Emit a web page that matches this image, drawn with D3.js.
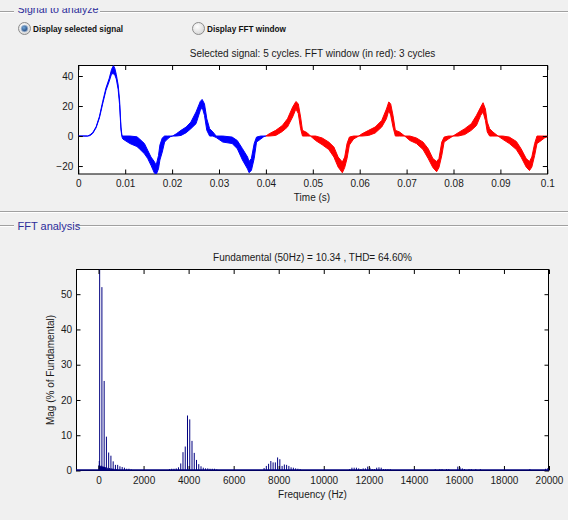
<!DOCTYPE html>
<html><head><meta charset="utf-8">
<script src="https://cdn.jsdelivr.net/npm/d3@7"></script>
<style>
html,body{margin:0;padding:0;background:#f0f0f0;}
svg{display:block;}
text{font-family:"Liberation Sans",Arial,Helvetica,sans-serif;}
</style></head><body>
<svg id="c" width="568" height="520"></svg>
<script>
// ---------- DATA ----------
// Selected signal: envelope (upper / lower) of the densely switching waveform, time in ms
const sigTimeMs = [0,2.0,2.5,3.1,3.8,4.5,5.2,5.9,6.6,7.1,7.5,7.8,8.1,8.5,8.8,9.1,9.3,9.5,11.0,12.5,13.0,14.1,14.8,15.5,16.2,16.6,17.1,17.4,17.9,18.4,19.0,19.6,20.1,
 20.9,21.9,23.0,24.0,25.1,26.0,26.4,26.9,27.4,28.0,28.7,29.4,30.8,32.8,33.9,35.0,36.1,36.4,36.9,37.5,38.0,38.9,39.6,40.0,
 40.7,42.1,43.5,44.6,45.7,46.4,46.9,47.4,47.8,48.8,49.5,50.6,52.0,53.4,54.5,55.4,56.3,56.8,57.3,57.8,58.7,59.8,
 60.5,61.9,63.3,64.7,65.7,66.2,66.6,67.1,67.6,68.5,69.6,70.7,72.1,73.5,74.6,75.6,76.4,76.9,77.5,78.0,78.9,79.9,
 81.0,82.4,83.8,84.9,85.8,86.3,86.8,87.2,87.7,88.4,89.5,90.5,91.9,93.4,94.4,95.5,96.2,96.7,97.3,97.8,98.7,99.4,100];
const sigUpper = [0,0,0.8,2.4,6.2,13,23,32,38.5,44.5,47,45,41,34,24,6,0.5,0,0,-0.5,-1.8,-5,-9.5,-14,-17,-19.5,-13,-6,-1.3,0,0,0,0,
 1.5,3.8,6,9.3,16,23,24.4,21.5,11.5,4.9,2.7,0,0,-0.7,-3,-8.4,-14,-17,-15,-5,-0.7,0,0,0,
 1.5,3.8,7,11.5,19.3,23,21.5,12.7,3.8,2.2,0,0,-1.3,-4,-7.3,-14,-17.3,-14,-5,-0.7,0,0,
 1.5,3.8,6,10.4,18,22.7,21.5,13.8,3.8,2.7,0,0,-1.3,-4,-8.4,-15,-17,-15,-4,-0.7,0,0,
 2.2,4.9,8.2,13.8,19.3,22.2,18,9.3,4.9,2.7,0,0,-0.7,-3.6,-8.4,-15,-17,-14,-5,0,0,0,0];
const sigLower = [0,0,0.3,1.8,5.5,12,21.5,30.5,36.5,41.5,41.5,40.5,38,31,21,4,-0.5,-2,-5,-7,-8.4,-11.8,-15,-19.5,-24.5,-25.8,-21.8,-16,-10.7,-4,-2,-0.5,0,
 0,0.4,2.2,4.9,8.2,17,19.3,13.8,3.8,0,0,-1,-4,-5,-8.4,-16,-22,-24.4,-23,-15,-4,-2,-0.3,0,
 0,0.4,3,6,12.7,18,15,4.9,0,0,0,-3,-5.8,-9,-14,-20.7,-24.5,-21,-15,-6,-2,0,
 0,0.4,2,6,11.5,17,14,6,0,0,0,-3,-5,-9,-15,-21,-23.8,-21,-13,-4,-2,0,
 0,1,3.8,7,13.8,16,10.4,2.7,0,0,0,-2.2,-5,-9,-14,-20.7,-23,-20.7,-13,-5,-3,-1.3,-0.5];
const fftWindowStartMs = 40;
const timeTicks = [0,0.01,0.02,0.03,0.04,0.05,0.06,0.07,0.08,0.09,0.1];
const timeTickLabels = ["0","0.01","0.02","0.03","0.04","0.05","0.06","0.07","0.08","0.09","0.1"];
const sigYTicks = [-20,0,20,40];

// FFT spectrum (Mag in % of fundamental)
const fftFreqHz = [16.7,33.3,50,66.7,83.3,100,116.7,133.3,150,166.7,183.3,200,216.7,233.3,250,266.7,283.3,300,316.7,350,383.3,416.7,450,483.3,516.7,550,583.3,616.7,650,683.3,750,783.3,850,950,1050,1150,1250,1350,1450,
 3150,3250,3350,3450,3550,3650,3750,3850,3950,4050,4150,4250,4350,4450,4550,4650,4750,4850,4950,5050,5150,5250,
 7350,7450,7550,7650,7750,7850,7950,8050,8150,8250,8350,8450,8550,8650,8750,8850,8950,
 11150,11250,11350,11450,11550,11650,11750,11850,11950,12050,12150,12250,12350,12450,12550,12650,12750,12850,12950,
 14950,15150,15250,15450,15550,15950,16050,16150,16250,16450,16550,16750,16950,19150,19850,19950];
const fftMagPct = [1.5,2.7,100,1.3,1.2,1.0,1.4,1.1,52,1.2,1.0,0.9,1.1,1.0,25.4,1.0,0.9,0.8,0.9,9.6,0.8,0.7,5.1,0.7,0.6,4.2,0.6,0.5,2.6,0.5,1.6,0.4,1.6,1.2,1.0,0.8,0.5,0.5,0.3,
 0.4,0.5,0.5,0.6,0.9,2.0,5.2,6.8,15.6,14.5,8.4,5.0,3.0,1.8,1.2,0.8,0.6,0.6,0.5,0.5,0.5,0.3,
 0.7,1.3,1.9,2.7,2.3,2.3,3.7,3.2,1.3,1.7,1.6,1.3,0.9,0.8,0.6,0.5,0.4,
 0.4,0.8,0.8,0.8,0.6,0.4,0.6,0.6,1.1,0.8,0.4,0.4,0.8,0.9,0.8,0.4,0.4,0.4,0.4,
 0.4,0.4,0.4,0.4,0.4,1.1,0.9,0.6,0.4,0.4,0.4,0.4,0.4,0.4,0.5,0.7];
const freqTicks = [0,2000,4000,6000,8000,10000,12000,14000,16000,18000,20000];
const magTicks = [0,10,20,30,40,50];

// ---------- DRAW ----------
const svg = d3.select("#c");
const defs = svg.append("defs");

// GUI frame
function etched(x1,x2,y){
  svg.append("line").attr("x1",x1).attr("x2",x2).attr("y1",y).attr("y2",y).attr("stroke","#a0a0a0");
  svg.append("line").attr("x1",x1).attr("x2",x2).attr("y1",y+1).attr("y2",y+1).attr("stroke","#ffffff");
}
etched(0,14,11.5); etched(100,568,11.5);
etched(0,568,211.5);
etched(0,14,225.5); etched(76,568,225.5);

defs.append("clipPath").attr("id","topclip").append("rect").attr("x",0).attr("y",8).attr("width",568).attr("height",20);
svg.append("text").attr("x",17.5).attr("y",13).attr("clip-path","url(#topclip)")
  .attr("font-size",11).attr("fill","#2d2d9a").attr("textLength",81).attr("lengthAdjust","spacingAndGlyphs")
  .text("Signal to analyze");
svg.append("text").attr("x",17.5).attr("y",229.5)
  .attr("font-size",11).attr("fill","#2d2d9a").text("FFT analysis");

// radio buttons
const gOff = defs.append("radialGradient").attr("id","rOff").attr("cx","40%").attr("cy","35%").attr("r","70%");
gOff.append("stop").attr("offset","0%").attr("stop-color","#ffffff");
gOff.append("stop").attr("offset","100%").attr("stop-color","#d4d4d4");
const gOn = defs.append("radialGradient").attr("id","rOn").attr("cx","40%").attr("cy","35%").attr("r","70%");
gOn.append("stop").attr("offset","0%").attr("stop-color","#6fa6d8");
gOn.append("stop").attr("offset","100%").attr("stop-color","#1c3f74");
function radio(cx,cy,on){
  svg.append("circle").attr("cx",cx).attr("cy",cy).attr("r",6).attr("fill","url(#rOff)").attr("stroke","#8c8c8c");
  if(on) svg.append("circle").attr("cx",cx).attr("cy",cy).attr("r",3.2).attr("fill","url(#rOn)").attr("stroke","#9ab4d2").attr("stroke-width",0.8);
}
radio(24.5,28.5,true);
radio(198.5,28.5,false);
svg.append("text").attr("x",33).attr("y",32).attr("font-size",9).attr("font-weight","bold").attr("fill","#111")
  .attr("textLength",90).attr("lengthAdjust","spacingAndGlyphs").text("Display selected signal");
svg.append("text").attr("x",207).attr("y",32).attr("font-size",9).attr("font-weight","bold").attr("fill","#111")
  .attr("textLength",79).attr("lengthAdjust","spacingAndGlyphs").text("Display FFT window");

// ---------- Top plot ----------
const T = {l:78.3, r:547.3, t:65.5, b:174};
const xT = d3.scaleLinear().domain([0,0.1]).range([T.l,T.r]);
const yT = d3.scaleLinear().domain([-25.3,47]).range([T.b,T.t]);

svg.append("rect").attr("x",78.5).attr("y",65.5).attr("width",469).attr("height",108.5)
  .attr("fill","#fff").attr("stroke","#000");
defs.append("clipPath").attr("id","clipT").append("rect").attr("x",78.5).attr("y",65.5).attr("width",469).attr("height",108.5);

const sig = sigTimeMs.map((t,i)=>({t:t/1000, u:sigUpper[i], l:sigLower[i]}));
const area = d3.area().x(d=>xT(d.t)).y0(d=>yT(d.l)).y1(d=>yT(d.u));
const gS = svg.append("g").attr("clip-path","url(#clipT)");
gS.append("path").datum(sig.filter(d=>d.t*1000<=fftWindowStartMs)).attr("d",area)
  .attr("fill","#0000ff").attr("stroke","#0000ff").attr("stroke-width",1).attr("stroke-linejoin","round");
gS.append("path").datum(sig.filter(d=>d.t*1000>=fftWindowStartMs)).attr("d",area)
  .attr("fill","#ff0000").attr("stroke","#ff0000").attr("stroke-width",1).attr("stroke-linejoin","round");

function styleAxis(g){ g.select(".domain").remove(); g.selectAll("line").attr("stroke","#000"); g.selectAll("text").attr("fill","#1a1a1a").attr("font-size",10).attr("font-family","Liberation Sans, Arial, sans-serif"); }
const tl = 4.5;
svg.append("g").attr("transform",`translate(0,${T.b})`)
  .call(d3.axisBottom(xT).tickValues(timeTicks).tickFormat((d,i)=>timeTickLabels[i]).tickSizeInner(-tl).tickSizeOuter(0).tickPadding(6)).call(styleAxis);
svg.append("g").attr("transform",`translate(0,${T.t})`)
  .call(d3.axisTop(xT).tickValues(timeTicks).tickFormat("").tickSizeInner(-tl).tickSizeOuter(0)).call(styleAxis);
svg.append("g").attr("transform",`translate(${T.l},0)`)
  .call(d3.axisLeft(yT).tickValues(sigYTicks).tickSizeInner(-tl).tickSizeOuter(0).tickPadding(5)).call(styleAxis);
svg.append("g").attr("transform",`translate(${T.r},0)`)
  .call(d3.axisRight(yT).tickValues(sigYTicks).tickFormat("").tickSizeInner(-tl).tickSizeOuter(0)).call(styleAxis);

svg.append("text").attr("x",312.5).attr("y",57).attr("text-anchor","middle").attr("font-size",10).attr("fill","#1a1a1a")
  .text("Selected signal: 5 cycles. FFT window (in red): 3 cycles");
svg.append("text").attr("x",312).attr("y",201).attr("text-anchor","middle").attr("font-size",10).attr("fill","#1a1a1a")
  .text("Time (s)");

// ---------- FFT plot ----------
const F = {l:76, r:549, t:269.5, b:470.5};
const xF = d3.scaleLinear().domain([-1000,20000]).range([F.l,F.r]);
const yF = d3.scaleLinear().domain([0,57]).range([F.b,F.t]);

svg.append("rect").attr("x",76.5).attr("y",269.5).attr("width",472).attr("height",201)
  .attr("fill","#fff").attr("stroke","#000");
defs.append("clipPath").attr("id","clipF").append("rect").attr("x",76.5).attr("y",269.5).attr("width",472).attr("height",201);

const gB = svg.append("g").attr("clip-path","url(#clipF)");
const bars = fftFreqHz.map((f,i)=>({f, m:fftMagPct[i]}));
gB.selectAll("rect.bar").data(bars).join("rect").attr("class","bar")
  .attr("x",d=>xF(d.f)-0.5).attr("width",1)
  .attr("y",d=>yF(d.m)).attr("height",d=>yF(0)-yF(d.m))
  .attr("fill","#000080");

svg.append("g").attr("transform",`translate(0,${F.b})`)
  .call(d3.axisBottom(xF).tickValues(freqTicks).tickFormat(d3.format("d")).tickSizeInner(-tl).tickSizeOuter(0).tickPadding(6)).call(styleAxis);
svg.append("g").attr("transform",`translate(0,${F.t})`)
  .call(d3.axisTop(xF).tickValues(freqTicks).tickFormat("").tickSizeInner(-tl).tickSizeOuter(0)).call(styleAxis);
svg.append("g").attr("transform",`translate(${F.l},0)`)
  .call(d3.axisLeft(yF).tickValues(magTicks).tickSizeInner(-tl).tickSizeOuter(0).tickPadding(4)).call(styleAxis);
svg.append("g").attr("transform",`translate(${F.r},0)`)
  .call(d3.axisRight(yF).tickValues(magTicks).tickFormat("").tickSizeInner(-tl).tickSizeOuter(0)).call(styleAxis);

// bar baseline
svg.append("line").attr("x1",xF(-1000)).attr("x2",xF(20000)).attr("y1",yF(0)-0.5).attr("y2",yF(0)-0.5)
  .attr("stroke","#000080").attr("stroke-width",1.5);

svg.append("text").attr("x",312.5).attr("y",261).attr("text-anchor","middle").attr("font-size",10).attr("fill","#1a1a1a")
  .text("Fundamental (50Hz) = 10.34 , THD= 64.60%");
svg.append("text").attr("x",312.5).attr("y",498).attr("text-anchor","middle").attr("font-size",10).attr("fill","#1a1a1a")
  .text("Frequency (Hz)");
svg.append("text").attr("transform","translate(53.5,370) rotate(-90)").attr("text-anchor","middle").attr("font-size",10).attr("fill","#1a1a1a")
  .text("Mag (% of Fundamental)");
</script>
</body></html>
